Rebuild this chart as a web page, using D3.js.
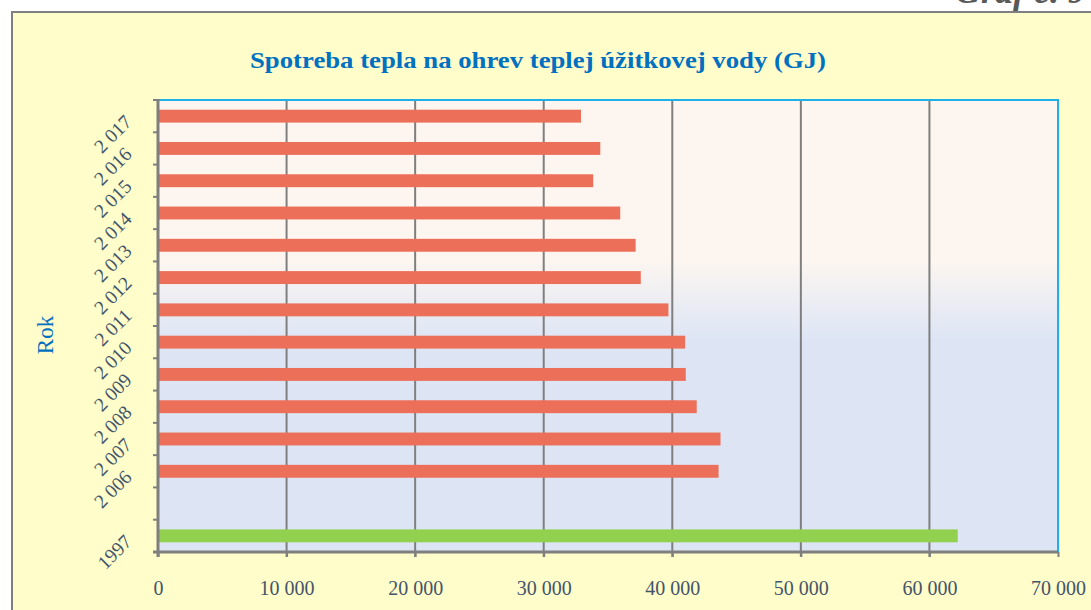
<!DOCTYPE html>
<html>
<head>
<meta charset="utf-8">
<script src="https://cdn.jsdelivr.net/npm/d3@7"></script>
<style>
  html, body { margin: 0; padding: 0; background: #fff; }
  svg { display: block; }
</style>
</head>
<body>
<div class="app"></div>
<script>
// data (GJ)
const years = ['1997', '', '2 006', '2 007', '2 008', '2 009', '2 010', '2 011', '2 012', '2 013', '2 014', '2 015', '2 016', '2 017']
const values = [62200, null, 43600, 43750, 41900, 41050, 41000, 39700, 37550, 37150, 35950, 33850, 34400, 32900]
const xTicks = [0, 10000, 20000, 30000, 40000, 50000, 60000, 70000]

const W = 1091, H = 610
const plot = { left: 158, right: 1058, top: 100, bottom: 552 }
const serif = 'Liberation Serif, Times New Roman, serif'

const svg = d3.select('.app').append('svg').attr('width', W).attr('height', H)

// gradient for plot area
const grad = svg.append('defs').append('linearGradient')
  .attr('id', 'bg').attr('x1', 0).attr('y1', 0).attr('x2', 0).attr('y2', 1)
grad.append('stop').attr('offset', '0%').attr('stop-color', '#fdf6f0')
grad.append('stop').attr('offset', '35%').attr('stop-color', '#fdf6f0')
grad.append('stop').attr('offset', '53%').attr('stop-color', '#dde5f5')
grad.append('stop').attr('offset', '100%').attr('stop-color', '#dde5f4')

// outer frame
svg.append('rect')
  .attr('x', 12).attr('y', 12).attr('width', W + 10).attr('height', H + 10)
  .attr('fill', '#fffdc9').attr('stroke', '#7f7f7f').attr('stroke-width', 2)

// caption, cut off at the top like in the source
svg.append('text')
  .attr('x', 1086).attr('y', 3)
  .attr('text-anchor', 'end')
  .attr('font-family', serif)
  .attr('font-style', 'italic').attr('font-weight', 'bold')
  .attr('font-size', 36).attr('fill', '#595959')
  .text('Graf č. 9')

svg.append('text')
  .attr('x', 538).attr('y', 68)
  .attr('text-anchor', 'middle')
  .attr('font-family', serif)
  .attr('font-weight', 'bold')
  .attr('font-size', 23.5).attr('fill', '#0070c0')
  .attr('textLength', 576).attr('lengthAdjust', 'spacingAndGlyphs')
  .text('Spotreba tepla na ohrev teplej úžitkovej vody (GJ)')

const x = d3.scaleLinear().domain([0, 70000]).range([plot.left, plot.right])
const y = d3.scaleBand().domain(d3.range(years.length)).range([plot.bottom, plot.top]).paddingInner(0.6).paddingOuter(0.3)
const yEdge = d3.scaleLinear().domain([0, years.length]).range([plot.bottom, plot.top])

svg.append('rect')
  .attr('x', plot.left).attr('y', plot.top)
  .attr('width', plot.right - plot.left).attr('height', plot.bottom - plot.top)
  .attr('fill', 'url(#bg)')

// gridlines
svg.append('g').selectAll('line')
  .data(xTicks.slice(1, -1))
  .join('line')
  .attr('x1', d => x(d)).attr('x2', d => x(d))
  .attr('y1', plot.top).attr('y2', plot.bottom + 5)
  .attr('stroke', '#7f7f7f').attr('stroke-width', 2)

// bars
svg.append('g').selectAll('rect')
  .data(values.map((v, i) => ({ v, i })).filter(d => d.v !== null))
  .join('rect')
  .attr('x', x(0))
  .attr('y', d => y(d.i))
  .attr('width', d => x(d.v) - x(0))
  .attr('height', y.bandwidth())
  .attr('fill', d => d.i === 0 ? '#92d050' : '#ec6f5a')

// plot border: blue top & right
svg.append('line')
  .attr('x1', plot.left).attr('x2', plot.right + 1)
  .attr('y1', plot.top).attr('y2', plot.top)
  .attr('stroke', '#1fb0e8').attr('stroke-width', 2)
svg.append('line')
  .attr('x1', plot.right).attr('x2', plot.right)
  .attr('y1', plot.top).attr('y2', plot.bottom)
  .attr('stroke', '#1fb0e8').attr('stroke-width', 2)

// x axis
const fmt = d => d3.format(',')(d).replace(/,/g, ' ')
const xAxis = svg.append('g')
  .attr('transform', `translate(0,${plot.bottom})`)
  .call(d3.axisBottom(x).tickValues(xTicks).tickSize(5).tickFormat(fmt))
xAxis.select('.domain').attr('stroke', '#7f7f7f').attr('stroke-width', 3).attr('d', `M${plot.left - 5},0H${plot.right}`)
xAxis.selectAll('.tick line').attr('stroke', '#7f7f7f').attr('stroke-width', 2)
xAxis.selectAll('.tick text')
  .attr('y', 43).attr('dy', null)
  .attr('font-family', serif).attr('font-size', 20)
  .attr('fill', '#44546a')

// y axis
svg.append('line')
  .attr('x1', plot.left).attr('x2', plot.left)
  .attr('y1', plot.top - 1).attr('y2', plot.bottom + 5)
  .attr('stroke', '#7f7f7f').attr('stroke-width', 3)
svg.append('g').selectAll('line')
  .data(d3.range(years.length + 1))
  .join('line')
  .attr('x1', plot.left - 5).attr('x2', plot.left)
  .attr('y1', d => yEdge(d)).attr('y2', d => yEdge(d))
  .attr('stroke', '#7f7f7f').attr('stroke-width', 2)

svg.append('g').selectAll('text')
  .data(years.map((t, i) => ({ t, i })).filter(d => d.t !== ''))
  .join('text')
  .attr('transform', d => `translate(${plot.left - 25},${y(d.i) + y.bandwidth() / 2 + 7}) rotate(-45)`)
  .attr('text-anchor', 'end')
  .attr('font-family', serif).attr('font-size', 19.5)
  .attr('fill', '#44546a')
  .text(d => d.t)

svg.append('text')
  .attr('transform', 'translate(53,335) rotate(-90)')
  .attr('text-anchor', 'middle')
  .attr('font-family', serif).attr('font-size', 23)
  .attr('fill', '#0070c0')
  .text('Rok')
</script>
</body>
</html>
